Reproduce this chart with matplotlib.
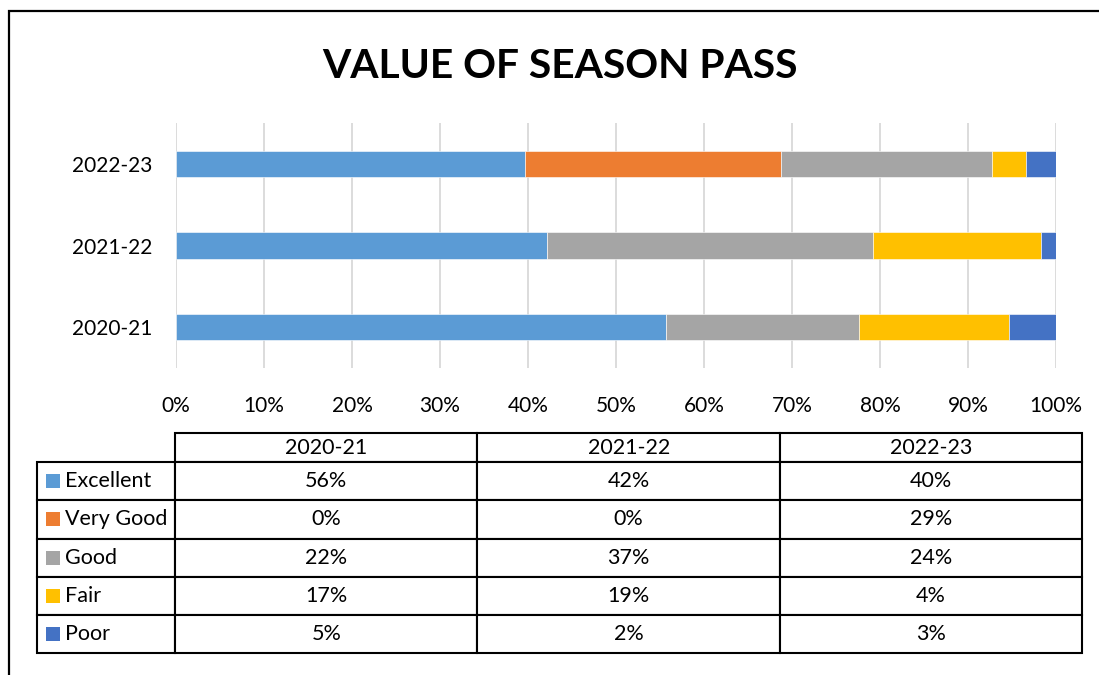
import matplotlib
matplotlib.use('Agg')
import matplotlib.pyplot as plt
from matplotlib.patches import Rectangle

plt.rcParams['font.family'] = ['Lato', 'DejaVu Sans']

# data (percent of respondents)
seasons = ['2020-21', '2021-22', '2022-23']
ratings = ['Excellent', 'Very Good', 'Good', 'Fair', 'Poor']
excellent = [55.7, 42.2, 39.7]
very_good = [0.0, 0.0, 29.1]
good = [21.9, 37.0, 23.9]
fair = [17.1, 19.1, 3.9]
poor = [5.3, 1.7, 3.4]
colors = ['#5B9BD5', '#ED7D31', '#A5A5A5', '#FFC000', '#4472C4']
x_ticks = [0, 10, 20, 30, 40, 50, 60, 70, 80, 90, 100]

series = [excellent, very_good, good, fair, poor]

W, H = 1099, 675
fig = plt.figure(figsize=(W / 100, H / 100), dpi=100)

# outer frame (runs off the right and bottom edges)
fig.add_artist(Rectangle((8.5 / W, -0.5), 2, 1.5 - 11.3 / H, transform=fig.transFigure,
                         fill=False, edgecolor='black', linewidth=1.6))

fig.text(560 / W, 1 - 78 / H, 'VALUE OF SEASON PASS', ha='center', va='baseline',
         fontsize=29.3, fontweight='bold')

# stacked bars
ax = fig.add_axes([176 / W, 1 - 368 / H, 880 / W, 245 / H])
ypos = list(range(len(seasons)))
left = [0.0] * len(seasons)
for name, vals, col in zip(ratings, series, colors):
    ax.barh(ypos, vals, left=left, height=0.32, color=col, edgecolor='white', linewidth=0.4,
            label=name, zorder=3)
    left = [a + b for a, b in zip(left, vals)]

ax.set_xlim(0, 100)
ax.set_ylim(-0.5, len(seasons) - 0.5)
ax.set_xticks(x_ticks)
ax.set_xticklabels([f'{t}%' for t in x_ticks])
ax.set_yticks(ypos)
ax.set_yticklabels(seasons)
ax.tick_params(axis='both', length=0, labelsize=15)
ax.tick_params(axis='x', pad=20)
ax.tick_params(axis='y', pad=17)
ax.grid(axis='x', color='#D9D9D9', linewidth=1.3, zorder=0)
for s in ax.spines.values():
    s.set_visible(False)

# data table with legend keys
tab_top, tab_bot = 433, 653.3
tab_left, tab_right = 37.3, 1082.3
tax = fig.add_axes([tab_left / W, 1 - tab_bot / H, (tab_right - tab_left) / W, (tab_bot - tab_top) / H])
tax.set_xlim(0, 1)
tax.set_ylim(0, 1)
tax.axis('off')

cell_text = [[''] + seasons]
for name, vals in zip(ratings, series):
    cell_text.append([name] + [f'{round(v)}%' for v in vals])

head_h, row_h = 29, 38.2
label_w, col_w = 137.7, 302.4
tab = tax.table(cellText=cell_text, cellLoc='center',
                colWidths=[label_w] + [col_w] * len(seasons), bbox=[0, 0, 1, 1])
tab.auto_set_font_size(False)
tab.set_fontsize(15.5)
for (r, c), cell in tab.get_celld().items():
    cell.set_height(head_h if r == 0 else row_h)
    cell.set_linewidth(1.5)
    cell.set_edgecolor('black')
    if r == 0 and c == 0:
        cell.visible_edges = 'open'
    elif c == 0:
        cell._loc = 'left'
        cell.PAD = 0.2
        cell.get_text().set_ha('left')

total_h = head_h + row_h * len(ratings)
total_w = label_w + col_w * len(seasons)
key = 14
for i, col in enumerate(colors):
    yc = total_h - head_h - row_h * (i + 0.5)
    tax.add_patch(Rectangle((8.7 / total_w, (yc - key / 2) / total_h), key / total_w, key / total_h,
                            facecolor=col, edgecolor='none', zorder=5))

fig.savefig('out.png', dpi=100)
